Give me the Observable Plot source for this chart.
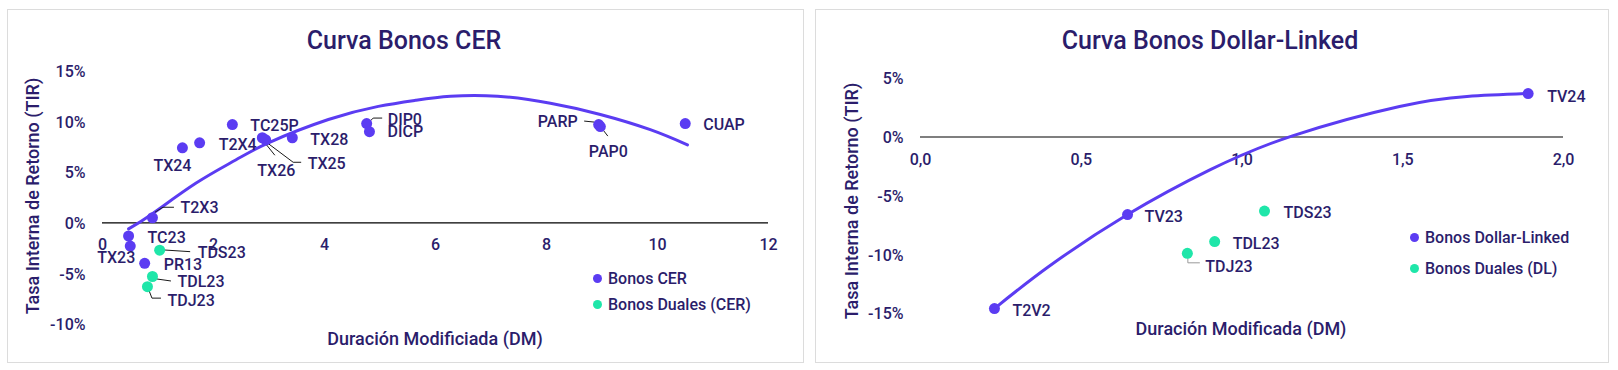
<!DOCTYPE html>
<html>
<head>
<meta charset="utf-8">
<script src="https://cdn.jsdelivr.net/npm/d3@7"></script>
<script src="https://cdn.jsdelivr.net/npm/@observablehq/plot@0.6"></script>
<style>
  html, body { margin: 0; padding: 0; background: #ffffff; }
  #root { position: relative; width: 1618px; height: 370px; overflow: hidden; font-family: Roboto, sans-serif; color: #2b1d6b; }
  .panel { position: absolute; box-sizing: border-box; border: 1px solid #dcdcdc; background: #fff; }
  .abs { position: absolute; white-space: nowrap; transform: translate(-50%, -50%); line-height: 1; }
  .title { font-size: 25px; font-weight: 500; color: #2b1d6b; }
  .axt { font-size: 18px; font-weight: 500; color: #2b1d6b; }
  .ytitle { transform: translate(-50%, -50%) rotate(-90deg); }
  .leg { position: absolute; font-size: 16px; font-weight: 500; white-space: nowrap; line-height: 1; transform: translateY(-50%); color: #2b1d6b; }
  .leg i { display: inline-block; width: 9px; height: 9px; border-radius: 50%; margin-right: 6px; vertical-align: 1px; }
  .plot { position: absolute; }
</style>
</head>
<body>
<div id="root"></div>
<script>
// ---------------- DATA ----------------
// Curva Bonos CER
const cerNames = ["TC23", "TX23", "T2X3", "PR13", "TX24", "T2X4", "TC25P", "TX26", "TX25", "TX28", "DIP0", "DICP", "PARP", "PAP0", "CUAP"];
const cerDM    = [0.47, 0.50, 0.90, 0.76, 1.44, 1.75, 2.34, 2.88, 2.94, 3.42, 4.76, 4.81, 8.94, 8.97, 10.50];
const cerTIR   = [-1.3, -2.3, 0.5, -4.0, 7.4, 7.9, 9.7, 8.4, 8.2, 8.4, 9.8, 9.0, 9.7, 9.5, 9.8];

const cerDualNames = ["TDS23", "TDL23", "TDJ23"];
const cerDualDM    = [1.03, 0.90, 0.81];
const cerDualTIR   = [-2.7, -5.3, -6.3];

// trend line of the CER curve
const cerTrendDM  = [0.47, 0.90, 1.68, 2.40, 2.99, 4.07, 4.97, 5.64, 6.27, 7.12, 8.07, 8.97, 9.87, 10.54];
const cerTrendTIR = [-0.6, 0.9, 3.9, 6.2, 7.9, 10.2, 11.5, 12.1, 12.5, 12.5, 11.8, 10.7, 9.2, 7.7];

const cerXTicks = [0, 2, 4, 6, 8, 10, 12];
const cerXTickLabels = ["0", "2", "4", "6", "8", "10", "12"];
const cerYTicks = [-10, -5, 0, 5, 10, 15];
const cerYTickLabels = ["-10%", "-5%", "0%", "5%", "10%", "15%"];

// Curva Bonos Dollar-Linked
const dlNames = ["T2V2", "TV23", "TV24"];
const dlDM    = [0.23, 0.644, 1.89];
const dlTIR   = [-14.6, -6.6, 3.7];

const dlDualNames = ["TDJ23", "TDL23", "TDS23"];
const dlDualDM    = [0.83, 0.915, 1.07];
const dlDualTIR   = [-9.9, -8.9, -6.3];

const dlTrendDM  = [0.23, 0.40, 0.644, 0.90, 1.157, 1.49, 1.70, 1.89];
const dlTrendTIR = [-14.6, -11.0, -6.6, -2.8, 0.1, 2.6, 3.45, 3.7];

const dlXTicks = [0, 0.5, 1, 1.5, 2];
const dlXTickLabels = ["0,0", "0,5", "1,0", "1,5", "2,0"];
const dlYTicks = [-15, -10, -5, 0, 5];
const dlYTickLabels = ["-15%", "-10%", "-5%", "0%", "5%"];

// ---------------- LAYOUT / STYLE (pixel offsets of labels and leader lines) ----------------
const PURPLE = "#5b3cf2";
const GREEN = "#1fe6a9";
const INK = "#2b1d6b";

const cerLabelLayout = {
  TC23:  {dx: 19, dy: 2,  anchor: "start"},
  TX23:  {dx: -14, dy: 12, anchor: "middle"},
  T2X3:  {dx: 28, dy: -10, anchor: "start", leader: [[3,-5],[11,-10],[22,-10]]},
  PR13:  {dx: 19, dy: 2,  anchor: "start"},
  TX24:  {dx: -10, dy: 18, anchor: "middle"},
  T2X4:  {dx: 19, dy: 2,  anchor: "start"},
  TC25P: {dx: 18, dy: 1,  anchor: "start"},
  TX26:  {dx: 14, dy: 33, anchor: "middle", leader: [[1,3],[13,18]]},
  TX25:  {dx: 42, dy: 24, anchor: "start", leader: [[0,2],[28,23],[36,23]]},
  TX28:  {dx: 18, dy: 2,  anchor: "start"},
  DIP0:  {dx: 21, dy: -4, anchor: "start", leader: [[2,0],[7,-5],[16,-5]]},
  DICP:  {dx: 18, dy: 0,  anchor: "start"},
  PARP:  {dx: -21, dy: -3, anchor: "end", leader: [[-14,-3],[-4,-2]]},
  PAP0:  {dx: 8, dy: 25, anchor: "middle", leader: [[1,1],[8,10]]},
  CUAP:  {dx: 18, dy: 1,  anchor: "start"},
  TDS23: {dx: 38, dy: 3,  anchor: "start", leader: [[0,0],[31,2]]},
  TDL23: {dx: 25, dy: 5,  anchor: "start", leader: [[0,0],[5,3],[19,5]]},
  TDJ23: {dx: 20, dy: 14, anchor: "start", leader: [[0,-1],[5,12],[14,12]]}
};
const dlLabelLayout = {
  T2V2:  {dx: 18, dy: 2, anchor: "start"},
  TV23:  {dx: 17, dy: 2, anchor: "start"},
  TV24:  {dx: 19, dy: 3, anchor: "start"},
  TDJ23: {dx: 18, dy: 14, anchor: "start", leader: [[1,4],[1,10],[13,10]], leaderColor: "#9a9a9a"},
  TDL23: {dx: 18, dy: 2, anchor: "start"},
  TDS23: {dx: 19, dy: 2, anchor: "start"}
};

// ---------------- BUILD ----------------
function rows(names, xs, ys) { return names.map((n, i) => ({name: n, x: xs[i], y: ys[i]})); }

function leaderMark(points, layout) {
  return (index, scales) => {
    const g = d3.create("svg:g");
    for (const p of points) {
      const l = layout[p.name];
      if (!l || !l.leader) continue;
      const px = scales.x(p.x), py = scales.y(p.y);
      g.append("path")
        .attr("d", d3.line()(l.leader.map(([a, b]) => [px + a, py + b])))
        .attr("fill", "none")
        .attr("stroke", l.leaderColor || "#1a1a1a")
        .attr("stroke-width", 1);
    }
    return g.node();
  };
}

function labelMarks(points, layout) {
  return points.map(p => {
    const l = layout[p.name] || {dx: 18, dy: 0, anchor: "start"};
    return Plot.text([p], {x: "x", y: "y", text: "name", dx: l.dx, dy: l.dy, textAnchor: l.anchor, fontSize: 16, fontWeight: 500, fill: INK});
  });
}

function makeChart(cfg) {
  const main = rows(cfg.names, cfg.dm, cfg.tir);
  const dual = rows(cfg.dualNames, cfg.dualDM, cfg.dualTIR);
  const trend = cfg.trendDM.map((d, i) => ({x: d, y: cfg.trendTIR[i]}));
  const xt = cfg.xTicks.map((t, i) => ({v: t, label: cfg.xTickLabels[i]}));
  const yt = cfg.yTicks.map((t, i) => ({v: t, label: cfg.yTickLabels[i]}));
  const all = main.concat(dual);
  return Plot.plot({
    width: cfg.width, height: cfg.height,
    marginLeft: cfg.ml, marginRight: cfg.mr, marginTop: cfg.mt, marginBottom: cfg.mb,
    x: {domain: cfg.xDomain, axis: null},
    y: {domain: cfg.yDomain, axis: null},
    style: {fontFamily: "Roboto, sans-serif", fontSize: "16px", color: INK, background: "transparent", overflow: "visible"},
    marks: [
      Plot.ruleY([0], {stroke: "#000", strokeWidth: 1.2}),
      Plot.text(xt, {x: "v", y: () => 0, text: "label", dy: cfg.xLabelDy, fontSize: 16, fontWeight: 500, fill: INK}),
      Plot.text(yt, {x: () => cfg.xDomain[0], y: "v", text: "label", dx: -cfg.yLabelPad, dy: 1, textAnchor: "end", fontSize: 16, fontWeight: 500, fill: INK}),
      Plot.line(trend, {x: "x", y: "y", curve: "natural", stroke: PURPLE, strokeWidth: 3}),
      leaderMark(all, cfg.layout),
      Plot.dot(main, {x: "x", y: "y", r: 5.5, fill: PURPLE}),
      Plot.dot(dual, {x: "x", y: "y", r: 5.5, fill: GREEN}),
      ...labelMarks(all, cfg.layout)
    ]
  });
}

const root = document.getElementById("root");
function addEl(cls, html, left, top, extraStyle) {
  const d = document.createElement("div");
  d.className = cls;
  d.innerHTML = html;
  d.style.left = left + "px";
  d.style.top = top + "px";
  if (extraStyle) Object.assign(d.style, extraStyle);
  root.appendChild(d);
  return d;
}

// panels
addEl("panel", "", 7, 9, {width: "797px", height: "354px"});
addEl("panel", "", 815, 9, {width: "794px", height: "354px"});

// left chart
const left = makeChart({
  names: cerNames, dm: cerDM, tir: cerTIR,
  dualNames: cerDualNames, dualDM: cerDualDM, dualTIR: cerDualTIR,
  trendDM: cerTrendDM, trendTIR: cerTrendTIR,
  xTicks: cerXTicks, xTickLabels: cerXTickLabels, yTicks: cerYTicks, yTickLabels: cerYTickLabels,
  xDomain: [0, 12], yDomain: [-10, 15],
  width: 796, height: 353, ml: 95, mr: 35, mt: 61.4, mb: 38.4,
  xLabelDy: 22, yLabelPad: 17, layout: cerLabelLayout
});
const lw = document.createElement("div");
lw.className = "plot"; lw.style.left = "7px"; lw.style.top = "9px";
lw.appendChild(left); root.appendChild(lw);

// right chart
const right = makeChart({
  names: dlNames, dm: dlDM, tir: dlTIR,
  dualNames: dlDualNames, dualDM: dlDualDM, dualTIR: dlDualTIR,
  trendDM: dlTrendDM, trendTIR: dlTrendTIR,
  xTicks: dlXTicks, xTickLabels: dlXTickLabels, yTicks: dlYTicks, yTickLabels: dlYTickLabels,
  xDomain: [0, 2], yDomain: [-15, 5],
  width: 793, height: 353, ml: 105, mr: 45, mt: 68.75, mb: 49.25,
  xLabelDy: 23, yLabelPad: 17, layout: dlLabelLayout
});
const rw = document.createElement("div");
rw.className = "plot"; rw.style.left = "815px"; rw.style.top = "9px";
rw.appendChild(right); root.appendChild(rw);

// titles & axis titles
addEl("abs title", "Curva Bonos CER", 404, 40);
addEl("abs title", "Curva Bonos Dollar-Linked", 1210, 40);
addEl("abs axt ytitle", "Tasa Interna de Retorno (TIR)", 33, 196);
addEl("abs axt ytitle", "Tasa Interna de Retorno (TIR)", 852, 201);
addEl("abs axt", "Duración Modificiada (DM)", 435, 339);
addEl("abs axt", "Duración Modificada (DM)", 1241, 329);

// legends
addEl("leg", `<i style="background:${PURPLE}"></i>Bonos CER`, 593, 279);
addEl("leg", `<i style="background:${GREEN}"></i>Bonos Duales (CER)`, 593, 305);
addEl("leg", `<i style="background:${PURPLE}"></i>Bonos Dollar-Linked`, 1410, 238);
addEl("leg", `<i style="background:${GREEN}"></i>Bonos Duales (DL)`, 1410, 269);
</script>
</body>
</html>
